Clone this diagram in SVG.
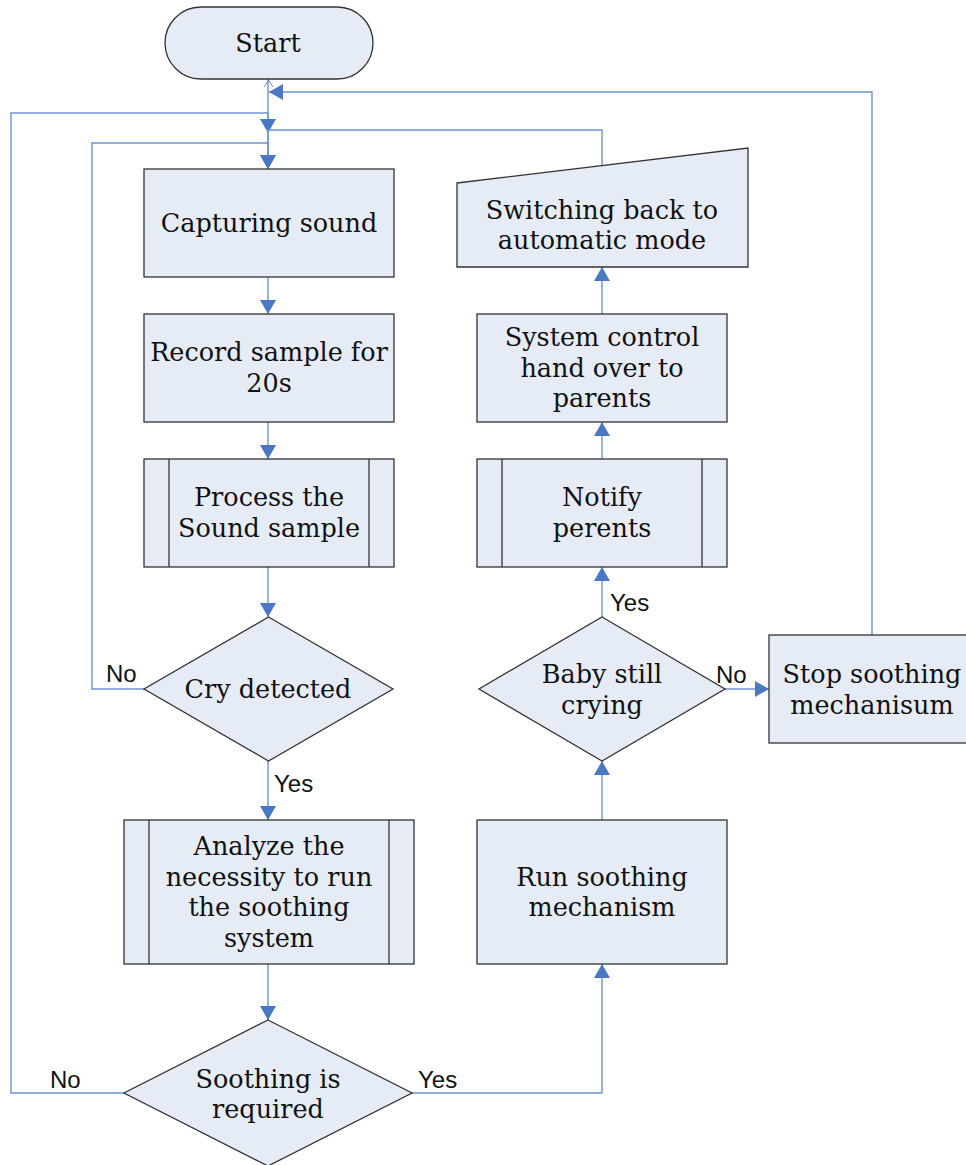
<svg xmlns="http://www.w3.org/2000/svg" width="966" height="1165" viewBox="0 0 966 1165">
<style>
.node{fill:#e6ecf6;stroke:#333;stroke-width:1.3}
.inner{fill:none;stroke:#333;stroke-width:1.3}
.t{font-family:"DejaVu Serif","Liberation Serif",serif;font-size:25.5px;fill:#111;text-anchor:middle}
.lbl{font-family:"Liberation Sans","Open Sans",sans-serif;font-size:24px;fill:#111}
.c{fill:none;stroke:#6c93d1;stroke-width:1.4}
.ca{fill:none;stroke:#6c93d1;stroke-width:1.4;marker-end:url(#ah)}
</style>
<defs>
<marker id="ah" markerUnits="userSpaceOnUse" markerWidth="15" markerHeight="16" refX="14" refY="8" orient="auto">
<path d="M0,0 L14,8 L0,16 z" fill="#4a78c4"/>
</marker>
</defs>
<rect width="966" height="1165" fill="#fff"/>
<g id="connectors">
<polyline class="c" points="268,79 268,169"/>
<polyline class="c" points="264,87 268.5,80 273,87" style="stroke-width:1"/>
<polyline class="ca" points="872,635 872,92 269,92"/>
<polyline class="ca" points="124,1093 11,1093 11,113 268,113 268,133"/>
<polyline class="ca" points="602,167 602,130 268,130 268,169"/>
<polyline class="ca" points="144,689 92,689 92,143 268,143 268,169"/>
<polyline class="ca" points="268,277 268,314"/>
<polyline class="ca" points="268,422 268,459"/>
<polyline class="ca" points="268,567 268,617"/>
<polyline class="ca" points="268,761 268,820"/>
<polyline class="ca" points="268,964 268,1020"/>
<polyline class="ca" points="412,1093 602,1093 602,964"/>
<polyline class="ca" points="602,820 602,761"/>
<polyline class="ca" points="602,617 602,567"/>
<polyline class="ca" points="602,459 602,422"/>
<polyline class="ca" points="602,314 602,267"/>
<polyline class="ca" points="725,689 769,689"/>
<text class="lbl" x="106" y="682">No</text>
<text class="lbl" x="274" y="792">Yes</text>
<text class="lbl" x="50" y="1088">No</text>
<text class="lbl" x="418" y="1088">Yes</text>
<text class="lbl" x="610" y="611">Yes</text>
<text class="lbl" x="716" y="683">No</text>
</g>
<g id="start">
<rect class="node" x="165" y="7" width="208" height="72" rx="36" ry="36"/>
<text class="t" x="268" y="52">Start</text>
</g>
<g id="capture">
<rect class="node" x="144" y="169" width="250" height="108"/>
<text class="t" x="269" y="232">Capturing sound</text>
</g>
<g id="record">
<rect class="node" x="144" y="314" width="250" height="108"/>
<text class="t" x="269" y="361">Record sample for</text>
<text class="t" x="269" y="392">20s</text>
</g>
<g id="process">
<rect class="node" x="144" y="459" width="250" height="108"/>
<line class="inner" x1="169" y1="459" x2="169" y2="567"/>
<line class="inner" x1="369" y1="459" x2="369" y2="567"/>
<text class="t" x="269" y="506">Process the</text>
<text class="t" x="269" y="537">Sound sample</text>
</g>
<g id="cry">
<polygon class="node" points="268.5,617 393,689 268.5,761 144,689"/>
<text class="t" x="268" y="698">Cry detected</text>
</g>
<g id="analyze">
<rect class="node" x="124" y="820" width="290" height="144"/>
<line class="inner" x1="149" y1="820" x2="149" y2="964"/>
<line class="inner" x1="389" y1="820" x2="389" y2="964"/>
<text class="t" x="269" y="855">Analyze the</text>
<text class="t" x="269" y="886">necessity to run</text>
<text class="t" x="269" y="916">the soothing</text>
<text class="t" x="269" y="947">system</text>
</g>
<g id="required">
<polygon class="node" points="268,1020 412,1093 268,1166 124,1093"/>
<text class="t" x="268" y="1088">Soothing is</text>
<text class="t" x="268" y="1118">required</text>
</g>
<g id="run">
<rect class="node" x="477" y="820" width="250" height="144"/>
<text class="t" x="602" y="886">Run soothing</text>
<text class="t" x="602" y="916">mechanism</text>
</g>
<g id="still">
<polygon class="node" points="602,617 725,689 602,761 479,689"/>
<text class="t" x="602" y="683">Baby still</text>
<text class="t" x="602" y="714">crying</text>
</g>
<g id="stop">
<rect class="node" x="769" y="635" width="200" height="108"/>
<text class="t" x="872" y="683">Stop soothing</text>
<text class="t" x="872" y="714">mechanisum</text>
</g>
<g id="notify">
<rect class="node" x="477" y="459" width="250" height="108"/>
<line class="inner" x1="502" y1="459" x2="502" y2="567"/>
<line class="inner" x1="702" y1="459" x2="702" y2="567"/>
<text class="t" x="602" y="506">Notify</text>
<text class="t" x="602" y="537">perents</text>
</g>
<g id="handover">
<rect class="node" x="477" y="314" width="250" height="108"/>
<text class="t" x="602" y="346">System control</text>
<text class="t" x="602" y="377">hand over to</text>
<text class="t" x="602" y="407">parents</text>
</g>
<g id="switch">
<polygon class="node" points="457,183 748,148 748,267 457,267"/>
<text class="t" x="602" y="219">Switching back to</text>
<text class="t" x="602" y="249">automatic mode</text>
</g>
</svg>
